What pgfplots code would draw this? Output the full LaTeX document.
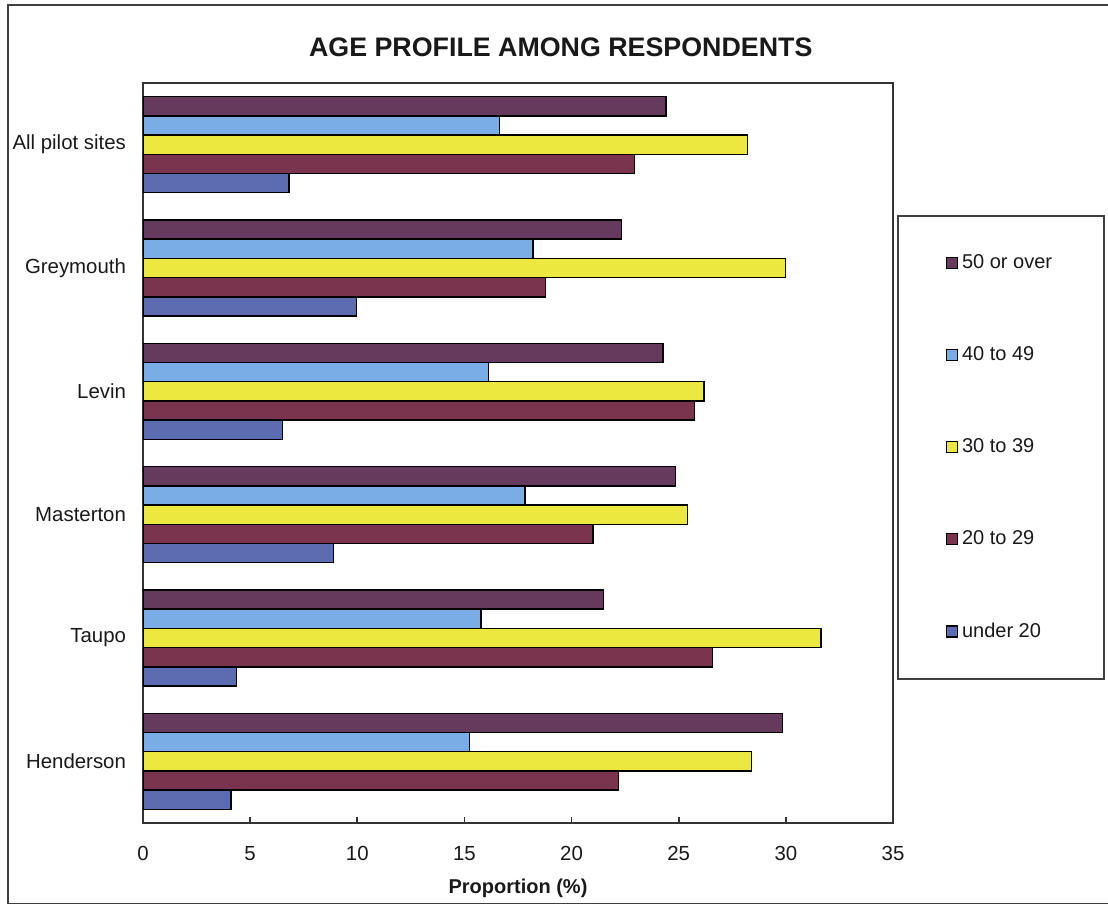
\documentclass[border=0pt]{standalone}
\usepackage{pgfplots}
\pgfplotsset{compat=1.18}
\usepackage{fontspec}
\setmainfont{Liberation Sans}

\definecolor{cFifty}{RGB}{102,58,92}
\definecolor{cForty}{RGB}{122,172,230}
\definecolor{cThirty}{RGB}{236,232,64}
\definecolor{cTwenty}{RGB}{122,52,78}
\definecolor{cUnder}{RGB}{92,108,176}

\begin{document}
\begin{tikzpicture}
\begin{axis}[
  name=ax,
  at={(0pt,0pt)}, anchor=south west,
  scale only axis, width=375pt, height=370pt,
  xbar,
  xmin=0, xmax=35, ymin=-0.5, ymax=5.5,
  xtick={0,5,...,35},
  ytick={0,1,2,3,4,5},
  yticklabels={Henderson,Taupo,Masterton,Levin,Greymouth,All pilot sites},
  tick pos=left, tick align=inside, major tick length=3pt,
  ytick style={draw=none},
  xtick style={black!80, line width=0.8pt},
  axis line style={black!80, line width=1pt},
  /pgf/number format/assume math mode=true,
  tick label style={font=\fontsize{10.2}{12}\selectfont, text=black!90},
  xticklabel style={yshift=-8pt},
  yticklabel style={xshift=-5pt},
  xlabel={\textbf{Proportion (\%)}},
  xlabel style={font=\fontsize{10}{12}\selectfont, at={(axis description cs:0.5,0)}, anchor=center, yshift=-32.5pt, text=black!90},
  title={\textbf{AGE PROFILE AMONG RESPONDENTS}},
  title style={font=\fontsize{13.4}{16}\selectfont, at={(axis description cs:0.557,1)}, anchor=center, yshift=12pt, text=black!90},
  bar width=0.156,
  every axis plot/.append style={draw=black, line width=0.7pt},
  legend image code/.code={\draw[#1, draw=black, line width=0.6pt] (0pt,-2.75pt) rectangle (5.5pt,2.75pt);},
  legend style={at={(1.0054,0.8216)}, anchor=north west, draw=black!75, line width=0.8pt,
    inner xsep=24pt, inner ysep=17.5pt, row sep=33.5pt,
    font=\fontsize{10}{12}\selectfont, text=black!90},
  legend cell align=left,
]
\addplot[fill=cFifty, bar shift=0.312] coordinates {
  (29.85,0) (21.49,1) (24.84,2) (24.26,3) (22.34,4) (24.4,5)};
\addlegendentry{50 or over}
\addplot[fill=cForty, bar shift=0.156] coordinates {
  (15.25,0) (15.77,1) (17.83,2) (16.13,3) (18.2,4) (16.63,5)};
\addlegendentry{40 to 49}
\addplot[fill=cThirty, bar shift=0] coordinates {
  (28.41,0) (31.64,1) (25.42,2) (26.18,3) (29.97,4) (28.2,5)};
\addlegendentry{30 to 39}
\addplot[fill=cTwenty, bar shift=-0.156] coordinates {
  (22.19,0) (26.57,1) (21.0,2) (25.75,3) (18.77,4) (22.93,5)};
\addlegendentry{20 to 29}
\addplot[fill=cUnder, bar shift=-0.312] coordinates {
  (4.11,0) (4.37,1) (8.9,2) (6.52,3) (9.95,4) (6.81,5)};
\addlegendentry{under 20}
\end{axis}
% chart area frame, placed from the plot box corner
\draw[black!75, line width=0.9pt]
  ([shift={(482.5pt,-40.2pt)}]ax.south west) -- ([shift={(-67.5pt,-40.2pt)}]ax.south west)
  -- ([shift={(-67.5pt,409pt)}]ax.south west) -- ([shift={(482.5pt,409pt)}]ax.south west);
\pgfresetboundingbox
\path[use as bounding box] ([shift={(-71.5pt,-41pt)}]ax.south west) rectangle ([shift={(482.5pt,411.5pt)}]ax.south west);
\end{tikzpicture}
\end{document}
